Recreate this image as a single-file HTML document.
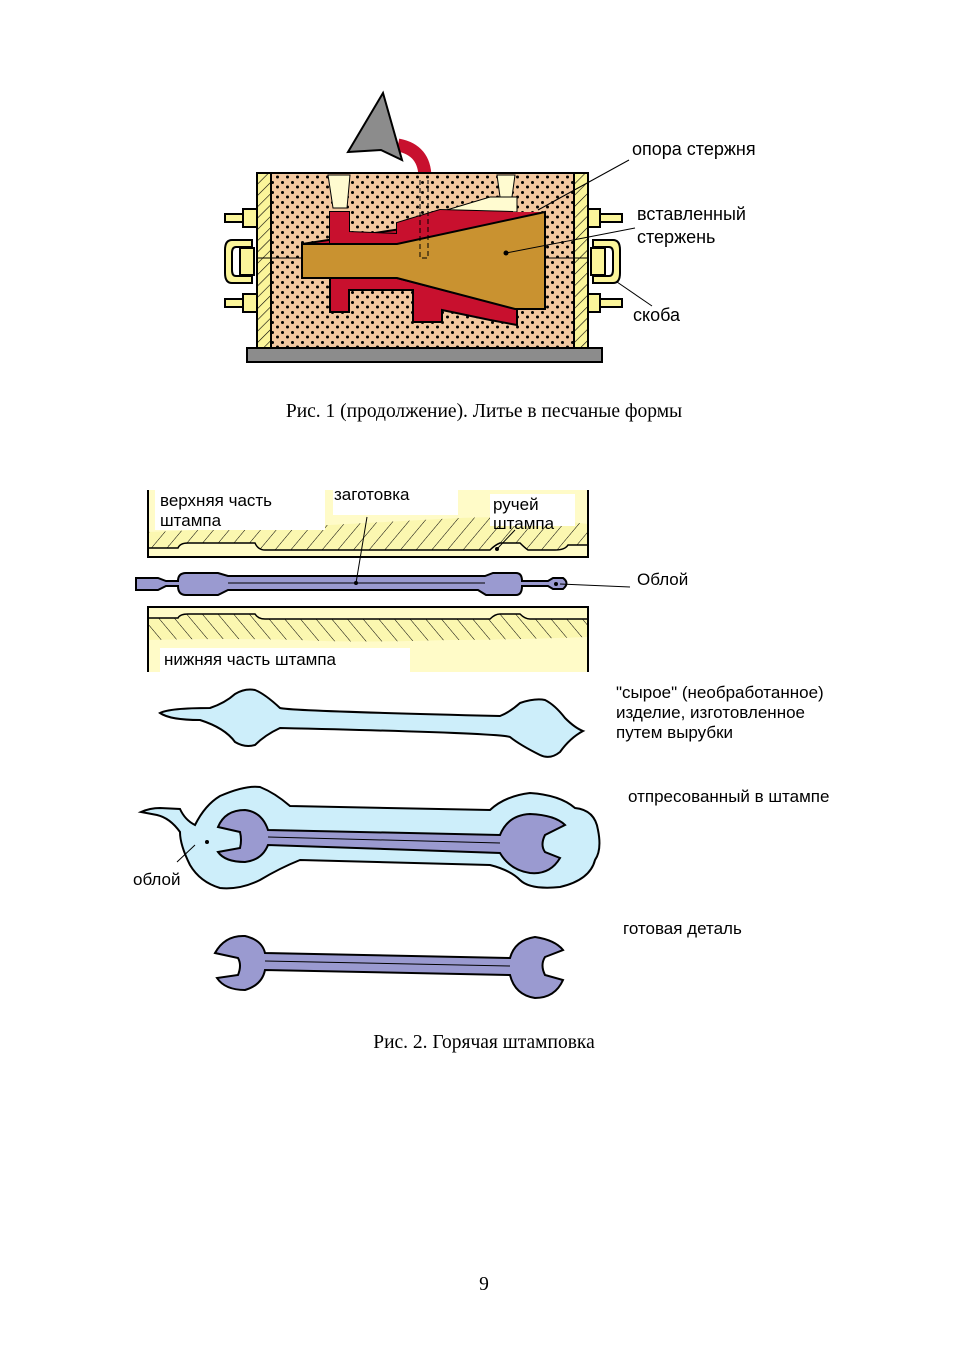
<!DOCTYPE html>
<html><head><meta charset="utf-8"><style>
html,body{margin:0;padding:0;background:#fff;}
svg{display:block}
.s{font-family:"Liberation Sans",sans-serif;font-size:17px;fill:#000}
.t{font-family:"Liberation Sans",sans-serif;font-size:18px;fill:#000}
.r{font-family:"Liberation Serif",serif;font-size:19.5px;fill:#000}
</style></head><body>
<svg width="968" height="1369" viewBox="0 0 968 1369" xmlns="http://www.w3.org/2000/svg">
<defs>
<pattern id="sand" width="10" height="10" patternUnits="userSpaceOnUse">
<rect width="10" height="10" fill="#f4c9a0"/>
<circle cx="2.5" cy="2.5" r="1.5" fill="#000"/><circle cx="7.5" cy="7" r="1.5" fill="#000"/>
</pattern>
<pattern id="hatch" width="8" height="8" patternUnits="userSpaceOnUse" patternTransform="rotate(45)">
<rect width="8" height="8" fill="#fbf59a"/><line x1="0" y1="0" x2="0" y2="8" stroke="#000" stroke-width="1.2"/>
</pattern>
<pattern id="hatch2" width="12" height="12" patternUnits="userSpaceOnUse" patternTransform="rotate(40)">
<rect width="12" height="12" fill="#fbf7b0"/><line x1="0" y1="0" x2="0" y2="12" stroke="#000" stroke-width="1"/>
</pattern>
<pattern id="hatch3" width="12" height="12" patternUnits="userSpaceOnUse" patternTransform="rotate(-40)">
<rect width="12" height="12" fill="#fbf7b0"/><line x1="0" y1="0" x2="0" y2="12" stroke="#000" stroke-width="1"/>
</pattern>
</defs>

<!-- Fig 1 -->
<path d="M398,145 Q425,150 425,178" stroke="#c8102e" stroke-width="13" fill="none"/>
<polygon points="383,93 348,152 381,150 402,160" fill="#8c8c8c" stroke="#000" stroke-width="2"/>
<rect x="271" y="173" width="303" height="175" fill="url(#sand)" stroke="#000" stroke-width="2"/>
<rect x="257" y="173" width="14" height="175" fill="url(#hatch)" stroke="#000" stroke-width="2"/>
<rect x="574" y="173" width="14" height="175" fill="url(#hatch)" stroke="#000" stroke-width="2"/>
<rect x="247" y="348" width="355" height="14" fill="#8c8c8c" stroke="#000" stroke-width="2"/>
<line x1="257" y1="258" x2="302" y2="258" stroke="#000"/><line x1="545" y1="258" x2="588" y2="258" stroke="#000"/>
<polygon points="328,175 350,175 347,208 333,208" fill="#fffbd0" stroke="#000"/>
<polygon points="497,175 515,175 512,197 500,197" fill="#fffbd0" stroke="#000"/>
<polygon points="490,197 517,197 517,212 440,212" fill="#fffbd0" stroke="#000"/>
<polygon points="330,212 349,212 349,232 397,234 397,223 440,210 513,212 302,244 302,278 330,278" fill="#c8102e" stroke="#000" stroke-width="2"/>
<polygon points="330,278 330,312 349,312 349,290 413,290 413,322 442,322 442,310 490,320 517,325 517,309 397,278" fill="#c8102e" stroke="#000" stroke-width="2"/>
<polygon points="330,212 349,212 349,232 397,234 397,223 440,210 513,212 545,212 545,309 515,309 397,278 302,278 302,244 330,244" fill="#c8102e" stroke="none"/>
<polygon points="302,244 397,244 545,212 545,309 515,309 397,278 302,278" fill="#c99230" stroke="#000" stroke-width="2"/>
<path d="M420,180 L420,258 L428,258 L428,180" fill="none" stroke="#000" stroke-dasharray="5,3"/>
<!-- clamps -->
<g fill="#fbf59a" stroke="#000" stroke-width="2">
<rect x="225" y="214" width="18" height="8"/><rect x="243" y="209" width="14" height="18"/>
<rect x="225" y="299" width="18" height="8"/><rect x="243" y="294" width="14" height="18"/>
<rect x="588" y="214" width="34" height="8"/><rect x="588" y="209" width="12" height="18"/>
<rect x="588" y="299" width="34" height="8"/><rect x="588" y="294" width="12" height="18"/>
<path d="M252,240 L232,240 Q225,240 225,250 L225,273 Q225,283 232,283 L252,283 L252,276 L236,276 Q232,276 232,270 L232,253 Q232,247 236,247 L252,247Z"/>
<rect x="240" y="248" width="14" height="27"/>
<path d="M593,240 L613,240 Q620,240 620,250 L620,273 Q620,283 613,283 L593,283 L593,276 L609,276 Q613,276 613,270 L613,253 Q613,247 609,247 L593,247Z"/>
<rect x="591" y="248" width="14" height="27"/>
</g>
<line x1="538" y1="210" x2="629" y2="160" stroke="#000"/>
<line x1="506" y1="253" x2="635" y2="228" stroke="#000"/><circle cx="506" cy="253" r="2.5"/>
<line x1="617" y1="282" x2="652" y2="306" stroke="#000"/>
<text class="t" x="632" y="155">опора стержня</text>
<text class="t" x="637" y="220">вставленный</text>
<text class="t" x="637" y="243">стержень</text>
<text class="t" x="633" y="321">скоба</text>
<text class="r" x="484" y="417" text-anchor="middle">Рис. 1 (продолжение). Литье в песчаные формы</text>

<!-- Fig 2 dies -->
<rect x="148" y="490" width="440" height="67" fill="#fffbc8"/>
<path d="M148,532 Q250,528 330,525 Q420,520 460,518 Q520,515 588,524 L588,557 L148,557Z" fill="url(#hatch2)"/>
<path d="M148,548 L178,548 Q180,543 188,543 L255,543 Q258,550 265,550 L490,550 Q495,545 500,543 L520,543 Q525,548 528,550 L555,550 Q565,550 568,545 L588,545 L588,557 L148,557Z" fill="#fffbc8" stroke="#000" stroke-width="1.5"/>
<path d="M148,490 L148,557 L588,557 L588,490" fill="none" stroke="#000" stroke-width="2"/>
<rect x="155" y="490" width="170" height="40" fill="#fff"/>
<rect x="333" y="490" width="125" height="25" fill="#fff"/>
<rect x="490" y="494" width="85" height="32" fill="#fff"/>
<rect x="148" y="607" width="440" height="65" fill="#fffbc8"/>
<path d="M148,607 L588,607 L588,637 Q500,640 450,640 Q350,643 300,640 Q220,638 148,640Z" fill="url(#hatch3)"/>
<path d="M148,618 L178,618 Q180,614 188,614 L255,614 Q258,619 265,619 L490,619 Q495,614 500,614 L520,614 Q525,619 530,619 L588,619 L588,607 L148,607Z" fill="#fffbc8" stroke="#000" stroke-width="1.5"/>
<path d="M148,672 L148,607 L588,607 L588,672" fill="none" stroke="#000" stroke-width="2"/>
<rect x="160" y="648" width="250" height="24" fill="#fff"/>
<!-- blank -->
<g fill="#9a9ad0" stroke="#000" stroke-width="2">
<path d="M136,578 L158,578 L166,581 L178,581 Q178,573 186,573 L218,573 L228,576 L485,576 L493,573 L516,573 Q522,573 522,581 L548,581 L553,578 L563,578 Q570,583 563,589 L553,589 L548,586 L522,586 Q522,595 516,595 L486,595 L478,590 L228,590 L218,595 L186,595 Q178,595 178,586 L166,586 L158,590 L136,590Z"/>
</g>
<line x1="228" y1="583" x2="485" y2="583" stroke="#000"/>
<line x1="356" y1="583" x2="367" y2="517" stroke="#000"/><circle cx="356" cy="583" r="2"/>
<line x1="560" y1="584" x2="630" y2="587" stroke="#000"/><circle cx="556" cy="584" r="2"/>
<line x1="497" y1="549" x2="515" y2="530" stroke="#000"/><circle cx="497" cy="549" r="2"/>
<text class="s" x="160" y="506">верхняя часть</text>
<text class="s" x="160" y="526">штампа</text>
<text class="s" x="334" y="500">заготовка</text>
<text class="s" x="493" y="510">ручей</text>
<text class="s" x="493" y="529">штампа</text>
<text class="s" x="637" y="585">Облой</text>
<text class="s" x="164" y="665">нижняя часть штампа</text>

<!-- raw part -->
<path d="M160,713 Q170,708 210,708 Q225,703 235,694 Q245,688 255,690 Q265,694 280,708 Q290,711 500,716 Q510,712 520,703 Q535,698 545,700 Q555,705 565,718 Q575,728 583,731 Q570,738 560,752 Q550,760 540,755 Q520,745 510,737 Q500,733 280,728 Q265,735 255,745 Q245,748 235,742 Q225,728 200,720 Q170,720 160,713Z" fill="#cdeefa" stroke="#000" stroke-width="2"/>
<text class="s" x="616" y="698">"сырое" (необработанное)</text>
<text class="s" x="616" y="718">изделие, изготовленное</text>
<text class="s" x="616" y="738">путем вырубки</text>

<!-- pressed -->
<path d="M141,812 Q150,808 160,808 L180,809 Q185,820 195,825 Q205,805 220,796 Q245,785 260,787 Q275,793 290,806 L490,810 Q505,796 530,793 Q560,795 575,808 Q595,810 598,830 Q602,850 595,860 Q590,880 560,887 Q530,890 520,880 Q510,870 490,865 L300,860 Q280,868 260,880 Q240,890 220,888 Q200,882 190,865 Q180,845 180,832 Q170,818 157,815 Z" fill="#cdeefa" stroke="#000" stroke-width="2"/>
<g fill="#9a9ad0" stroke="#000" stroke-width="2">
<path d="M218,827 Q225,810 245,810 Q262,812 268,830 L500,835 Q508,815 530,814 Q555,815 565,825 L545,835 Q540,845 545,852 L560,858 Q550,875 530,873 Q510,870 500,853 L268,845 Q262,860 245,862 Q225,862 218,852 L240,848 Q242,840 240,832Z"/>
</g>
<line x1="268" y1="837" x2="500" y2="843" stroke="#000"/>
<line x1="195" y1="845" x2="177" y2="862" stroke="#000"/><circle cx="207" cy="842" r="2"/>
<text class="s" x="133" y="885">облой</text>
<text class="s" x="628" y="802">отпресованный в штампе</text>

<!-- finished -->
<g fill="#9a9ad0" stroke="#000" stroke-width="2">
<path d="M215,953 Q225,935 245,936 Q262,940 265,953 L510,958 Q515,940 535,937 Q555,940 563,950 L545,957 Q540,965 545,975 L563,980 Q555,998 535,998 Q515,995 510,975 L265,970 Q262,985 245,990 Q225,990 217,978 L238,975 Q242,965 238,958Z"/>
</g>
<line x1="265" y1="961" x2="510" y2="966" stroke="#000"/>
<text class="s" x="623" y="934">готовая деталь</text>

<text class="r" x="484" y="1048" text-anchor="middle">Рис. 2. Горячая штамповка</text>
<text class="r" x="484" y="1290" text-anchor="middle">9</text>
</svg>
</body></html>
